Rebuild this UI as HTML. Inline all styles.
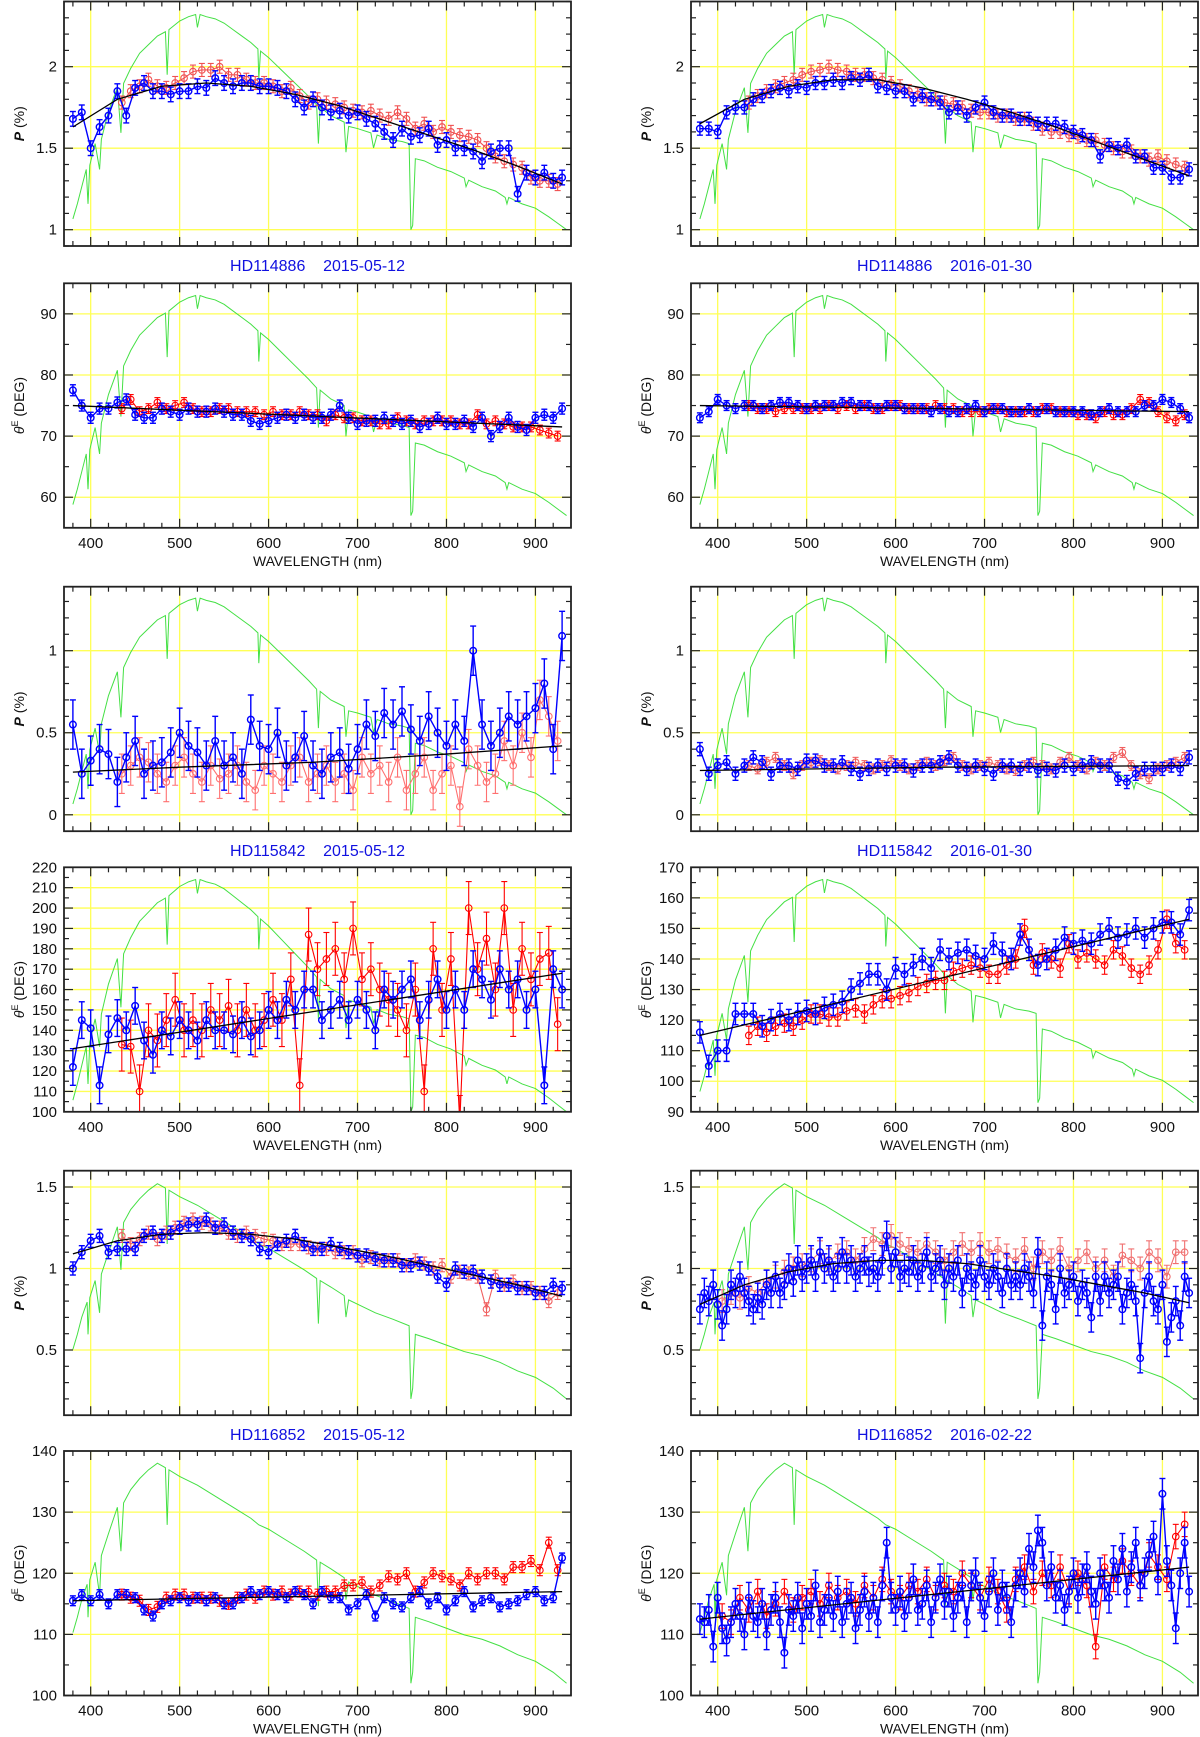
<!DOCTYPE html>
<html><head><meta charset="utf-8"><title>Polarization spectra</title>
<style>
html,body{margin:0;padding:0;background:#fff;}
svg{display:block;}
text{font-family:"Liberation Sans",sans-serif;}
</style></head>
<body>
<svg id="fig" width="1200" height="1737" viewBox="0 0 1200 1737" xmlns="http://www.w3.org/2000/svg"></svg>
<script>
// ---------- data ----------
const specA_lam=[380,385,390,395,397,399,405,410,412,420,430,434,437,445,455,465,475,484,486,488,500,510,518,520,523,530,540,550,560,570,580,588,589,591,600,615,630,645,654,656,658,670,685,687,690,700,715,718,722,735,750,758,760,762,765,775,790,805,820,822,825,840,855,866,868,870,885,900,915,925,935];
const specA_val=[.05,.12,.2,.28,.12,.3,.4,.28,.42,.55,.66,.45,.68,.75,.82,.86,.9,.92,.72,.93,.97,.99,1.0,.94,1.0,.99,.98,.96,.93,.9,.87,.84,.7,.83,.8,.74,.68,.62,.58,.4,.57,.53,.5,.36,.48,.47,.45,.38,.44,.42,.41,.40,.0,.02,.33,.32,.29,.27,.24,.2,.23,.2,.18,.15,.12,.15,.12,.1,.06,.03,0];
const specB_lam=[380,385,390,396,397,399,405,410,412,420,430,434,437,445,455,465,475,484,486,488,500,520,540,560,580,589,600,620,640,654,656,658,670,685,687,690,700,720,740,758,760,762,765,780,800,820,840,860,880,900,920,935];
const specB_val=[.23,.3,.38,.45,.3,.47,.55,.4,.58,.68,.8,.6,.82,.88,.93,.97,1.0,.98,.72,.97,.94,.9,.85,.8,.75,.72,.7,.65,.6,.56,.35,.55,.52,.48,.38,.46,.44,.4,.37,.34,0,.05,.3,.28,.25,.22,.2,.17,.13,.1,.05,0];

const p1L_blue=[1.68,1.72,1.5,1.63,1.7,1.85,1.7,1.87,1.9,1.85,1.85,1.83,1.85,1.85,1.88,1.87,1.93,1.9,1.88,1.9,1.9,1.88,1.88,1.87,1.85,1.8,1.75,1.8,1.75,1.72,1.73,1.7,1.72,1.68,1.65,1.6,1.55,1.62,1.57,1.58,1.62,1.52,1.55,1.5,1.5,1.48,1.42,1.48,1.5,1.5,1.22,1.35,1.32,1.35,1.3,1.32];
const p1L_red=[1.78,1.85,1.88,1.92,1.88,1.87,1.9,1.93,1.97,1.98,1.98,2.0,1.95,1.95,1.92,1.9,1.9,1.88,1.85,1.87,1.82,1.78,1.8,1.78,1.77,1.75,1.73,1.72,1.73,1.7,1.68,1.72,1.68,1.62,1.65,1.6,1.63,1.6,1.58,1.57,1.55,1.5,1.45,1.42,1.4,1.38,1.32,1.3,1.3,1.28];
const p1L_fitLam=[380,430,480,530,580,630,680,730,780,830,880,930];
const p1L_fit=[1.63,1.8,1.88,1.9,1.88,1.83,1.76,1.67,1.58,1.49,1.39,1.28];

const p1R_blue=[1.62,1.62,1.6,1.72,1.75,1.75,1.8,1.82,1.85,1.87,1.85,1.88,1.87,1.9,1.9,1.92,1.9,1.93,1.92,1.95,1.88,1.87,1.85,1.85,1.8,1.82,1.8,1.78,1.72,1.75,1.7,1.75,1.78,1.72,1.7,1.7,1.68,1.68,1.65,1.65,1.65,1.63,1.6,1.58,1.55,1.45,1.52,1.5,1.52,1.45,1.45,1.38,1.38,1.32,1.32,1.37];
const p1R_red=[1.78,1.82,1.85,1.88,1.9,1.92,1.95,1.97,1.98,2.0,1.98,1.97,1.95,1.95,1.93,1.92,1.9,1.88,1.85,1.83,1.8,1.8,1.78,1.77,1.75,1.73,1.72,1.72,1.7,1.7,1.68,1.68,1.65,1.62,1.6,1.6,1.58,1.57,1.55,1.55,1.52,1.5,1.48,1.48,1.45,1.43,1.45,1.42,1.4,1.38];
const p1R_fit=[1.65,1.8,1.88,1.92,1.92,1.87,1.8,1.72,1.63,1.53,1.43,1.33];

const t1L_blue=[77.5,75,73,74.5,74.5,75.5,76,73.5,73,73,74.5,74,73.5,74.5,74,74,74.5,74,73.5,73.5,72.5,72,72.5,73,73.5,73,73.5,73,73,73.5,75,73,72,72.5,72.5,73,72.5,72,72.5,71.5,72,73,72,72,72.5,71.5,73,70,71.5,73,71.5,71,73,73.5,73,74.5];
const t1L_red=[74.5,76,74,74.5,75.5,74.5,75,75.5,74.5,74,74,74.5,74.5,74,74,74,73.5,74,73.5,73.5,74,73.5,73.5,72.5,73.5,73,73,72.5,72.5,72,72,73,72.5,72,72.5,72.5,72.5,72.5,72,72,73.5,72,72.5,72,71.5,71.5,71.5,71,70.5,70];
const t1L_fitLam=[380,930];
const t1L_fit=[75,71.5];

const t1R_blue=[73,74,76,75,74.5,75,75,74.5,75,75.5,75.5,75,74.5,75,75,75,75.5,75.5,75,75,74.5,75,75,74.5,74.5,74.5,74,74.5,74,74,74.5,75,74,74.5,74.5,74,74,74.5,74,74.5,74,74,74,74,73.5,74,74.5,74,74,74,75,75,76,75.5,74.5,73];
const t1R_red=[75,74.5,74.5,74,74.5,74.5,74.5,74.5,74.5,75,74.5,75,74.5,75,74.5,74.5,75,75,74.5,74.5,74.5,75,74.5,74.5,74,74,74,74.5,74.5,74,74,74,74,74.5,74.5,74,74,73.5,73.5,73,74,73.5,73.5,74.5,76,75.5,74,73,72.5,73.5];
const t1R_fit=[75,74];

const p2L_blue=[0.55,0.25,0.33,0.4,0.37,0.2,0.35,0.45,0.25,0.3,0.32,0.38,0.5,0.42,0.38,0.3,0.45,0.3,0.35,0.25,0.58,0.42,0.4,0.5,0.3,0.35,0.48,0.3,0.25,0.35,0.38,0.28,0.4,0.55,0.48,0.62,0.55,0.63,0.52,0.45,0.6,0.5,0.42,0.55,0.45,1.0,0.55,0.42,0.5,0.6,0.55,0.6,0.65,0.8,0.4,1.09];
const p2L_red=[0.25,0.3,0.35,0.32,0.25,0.2,0.3,0.35,0.25,0.2,0.3,0.22,0.25,0.3,0.2,0.15,0.3,0.25,0.2,0.3,0.35,0.2,0.25,0.3,0.2,0.25,0.15,0.35,0.25,0.3,0.2,0.35,0.15,0.25,0.35,0.15,0.25,0.3,0.05,0.4,0.3,0.2,0.25,0.45,0.3,0.5,0.35,0.7,0.6,0.45];
const p2L_fitLam=[380,500,650,800,930];
const p2L_fit=[0.26,0.29,0.32,0.37,0.42];

const p2R_blue=[0.4,0.25,0.3,0.32,0.25,0.3,0.35,0.32,0.25,0.3,0.3,0.28,0.33,0.33,0.3,0.3,0.32,0.28,0.25,0.28,0.3,0.28,0.3,0.3,0.27,0.3,0.3,0.32,0.35,0.3,0.28,0.3,0.28,0.25,0.3,0.3,0.28,0.3,0.27,0.28,0.27,0.3,0.28,0.3,0.32,0.3,0.3,0.22,0.2,0.25,0.28,0.28,0.28,0.3,0.28,0.35];
const p2R_red=[0.3,0.28,0.32,0.35,0.3,0.25,0.3,0.32,0.33,0.3,0.28,0.3,0.32,0.3,0.28,0.3,0.33,0.3,0.28,0.3,0.32,0.3,0.33,0.35,0.3,0.28,0.3,0.32,0.3,0.28,0.27,0.3,0.32,0.3,0.28,0.32,0.35,0.3,0.28,0.32,0.3,0.35,0.38,0.3,0.25,0.22,0.28,0.3,0.32,0.35];
const p2R_fitLam=[380,650,930];
const p2R_fit=[0.27,0.29,0.3];

const t2L_blue=[122,145,141,113,138,146,140,152,135,128,140,137,145,140,135,145,140,140,138,145,137,140,150,145,155,150,160,160,145,150,155,145,155,150,140,160,155,160,165,145,155,165,150,160,150,170,165,155,170,160,165,150,160,113,170,160];
const t2L_red=[133,132,110,140,135,145,155,140,145,140,150,145,152,140,150,140,145,155,145,165,113,187,170,175,180,165,190,165,170,160,155,150,140,160,110,180,150,175,95,200,170,185,160,200,150,180,165,175,178,143];
const t2L_fit=[131,168];

const t2R_blue=[116,105,110,110,122,122,122,118,120,122,120,122,123,122,124,125,126,130,132,135,135,130,137,135,138,140,137,143,140,142,143,141,140,145,142,140,148,143,138,140,143,147,145,146,145,148,150,147,148,150,147,150,152,152,148,156];
const t2R_red=[115,118,116,118,119,118,120,122,122,121,121,123,124,122,125,127,127,128,129,131,132,133,133,136,137,138,137,135,135,138,140,150,138,142,140,137,145,140,142,140,138,143,141,137,135,138,143,153,145,143];
const t2R_fit=[115,153];

const p3L_blue=[1.0,1.1,1.17,1.2,1.1,1.12,1.12,1.12,1.2,1.22,1.2,1.22,1.25,1.27,1.27,1.3,1.25,1.27,1.22,1.2,1.18,1.12,1.1,1.15,1.17,1.2,1.15,1.12,1.12,1.15,1.12,1.1,1.08,1.08,1.06,1.05,1.05,1.02,1.02,1.03,1.0,0.95,0.9,1.0,0.98,0.98,0.95,0.92,0.9,0.9,0.88,0.88,0.85,0.85,0.9,0.88];
const p3L_red=[1.2,1.15,1.18,1.22,1.18,1.22,1.25,1.28,1.3,1.28,1.27,1.25,1.22,1.2,1.22,1.2,1.18,1.17,1.15,1.15,1.15,1.13,1.12,1.12,1.1,1.1,1.1,1.05,1.07,1.05,1.05,1.05,1.02,1.05,1.03,1.0,1.02,0.95,0.98,0.97,0.95,0.75,0.95,0.9,0.92,0.88,0.88,0.85,0.8,0.85];
const p3L_fit=[1.09,1.17,1.21,1.22,1.21,1.18,1.13,1.08,1.02,0.96,0.9,0.83];

const p3R_blue=[0.75,0.85,0.8,0.9,0.78,0.65,0.75,0.9,0.85,0.95,0.85,0.8,0.75,0.82,0.78,0.9,0.85,0.95,0.85,0.9,1.0,0.92,1.05,0.95,1.0,1.05,0.95,1.1,1.0,1.05,0.95,1.0,1.1,1.0,1.05,0.95,1.0,1.05,0.98,1.0,0.95,1.05,1.2,1.0,1.1,0.95,1.0,0.98,1.05,0.95,1.0,1.1,0.95,1.0,1.05,0.9,1.0,0.95,1.05,0.85,1.0,0.95,0.9,1.05,0.95,0.9,1.0,0.95,0.85,1.0,0.9,0.95,0.9,1.0,0.95,0.85,1.1,0.65,0.95,0.9,0.75,1.0,0.85,0.9,0.95,0.8,0.9,0.85,0.7,0.95,0.8,0.95,0.85,0.9,0.95,0.75,0.85,0.9,0.8,0.45,0.85,0.95,0.8,0.75,0.9,0.55,0.7,0.8,0.65,0.95,0.85];
const p3R_red=[0.8,0.85,0.82,0.88,0.85,0.92,0.95,0.98,1.0,1.02,1.05,1.1,1.05,1.08,1.1,1.05,1.12,1.18,1.15,1.2,1.15,1.12,1.1,1.15,1.1,1.05,1.1,1.15,1.1,1.15,1.1,1.12,1.08,1.05,1.12,1.0,1.1,1.05,1.12,1.0,1.05,1.1,1.0,1.05,0.95,1.08,1.05,1.0,1.1,1.05,0.95,1.1,1.1];
const p3R_fit=[0.78,0.9,0.98,1.03,1.05,1.05,1.03,0.99,0.95,0.9,0.85,0.79];

const t3L_blue=[115.5,116.5,115.5,116.5,115,116.5,116.5,116,114,113,115,115.5,116,115.5,116,115.5,116,115,115,116,117,116.5,117,116.5,116,117,116.5,115,117,116,116,114,115,116.5,113,116,115,114.5,116,117,115,116,114,115.5,117,114.5,115.5,116,114.5,115,115.5,116.5,117,115.5,116,122.5];
const t3L_red=[116.5,116,115.5,114,114.5,116,116.5,116.5,116,116,116,115.5,115,116,116.5,116,117,116.5,117,116.5,117,117,116.5,117,117,118,118,118.5,117,118,119.5,119,120,117,118.5,120,119.5,119,118,120,119,120,120,119,121,121,122,120.5,125,120.5];
const t3L_fit=[115.5,117];

const t3R_blue=[112.5,112,114,108,116,111,109,112,115,113,110,116,113,112,115,110,114,116,112,107,114,113,116,111,115,113,118,112,114,116,113,117,112,115,116,111,114,117,113,116,112,118,125,116,114,117,113,116,119,114,115,118,112,116,119,115,117,113,116,118,112,118,120,116,113,117,120,114,118,116,112,118,120,117,124,121,127,125,118,121,116,118,114,117,120,116,119,121,117,115,120,118,116,122,119,124,117,121,125,118,120,123,126,119,133,122,118,111,120,125,117];
const t3R_red=[113,112,116,114,117,113,115,117,114,116,117,115,118,116,117,115,118,116,119,117,116,118,117,119,116,118,117,120,118,116,119,117,114,119,121,117,120,118,121,117,120,118,108,121,119,122,120,118,123,121,119,126,128];
const t3R_fit=[112.5,121];

// ---------- layout ----------
const NS="http://www.w3.org/2000/svg";
const svg=document.getElementById('fig');
const colX=[64,691], PW=507, PH=244.5;
const rowTop=[1.5,283.3,586.7,867.3,1170.7,1451];
const X0=370, X1=940;
function mk(tag,attrs,parent){const e=document.createElementNS(NS,tag);for(const k in attrs)e.setAttribute(k,attrs[k]);(parent||svg).appendChild(e);return e;}
function rng(a,b,s){const r=[];for(let v=a;v<=b+1e-9;v+=s)r.push(+v.toFixed(4));return r;}

const panels=[
 {n:'p-2015-hd114886',c:0,r:0,y:[0.9,2.4],maj:[1,1.5,2],mi:0.1,t:'P',spec:'A',sl:1.0,sh:2.32,b:p1L_blue,bs:380,bst:10,be:0.045,rd:p1L_red,rs:435,rst:10,re:0.04,rc:'#f05050',fl:p1L_fitLam,f:p1L_fit,title:'HD114886    2015-05-12'},
 {n:'p-2016-hd114886',c:1,r:0,y:[0.9,2.4],maj:[1,1.5,2],mi:0.1,t:'P',spec:'A',sl:1.0,sh:2.32,b:p1R_blue,bs:380,bst:10,be:0.04,rd:p1R_red,rs:435,rst:10,re:0.04,rc:'#f05050',fl:p1L_fitLam,f:p1R_fit,title:'HD114886    2016-01-30'},
 {n:'theta-2015-hd114886',c:0,r:1,y:[55,95],maj:[60,70,80,90],mi:5,t:'T',spec:'A',sl:57,sh:93,b:t1L_blue,bs:380,bst:10,be:0.9,rd:t1L_red,rs:435,rst:10,re:0.8,rc:'#ff0000',fl:t1L_fitLam,f:t1L_fit},
 {n:'theta-2016-hd114886',c:1,r:1,y:[55,95],maj:[60,70,80,90],mi:5,t:'T',spec:'A',sl:57,sh:93,b:t1R_blue,bs:380,bst:10,be:0.8,rd:t1R_red,rs:435,rst:10,re:0.8,rc:'#ff0000',fl:t1L_fitLam,f:t1R_fit},
 {n:'p-2015-hd115842',c:0,r:2,y:[-0.1,1.39],maj:[0,0.5,1],mi:0.1,t:'P',spec:'A',sl:0,sh:1.32,b:p2L_blue,bs:380,bst:10,be:0.15,rd:p2L_red,rs:435,rst:10,re:0.12,rc:'#ff7070',fl:p2L_fitLam,f:p2L_fit,title:'HD115842    2015-05-12'},
 {n:'p-2016-hd115842',c:1,r:2,y:[-0.1,1.39],maj:[0,0.5,1],mi:0.1,t:'P',spec:'A',sl:0,sh:1.32,b:p2R_blue,bs:380,bst:10,be:0.04,rd:p2R_red,rs:435,rst:10,re:0.03,rc:'#f06060',fl:p2R_fitLam,f:p2R_fit,title:'HD115842    2016-01-30'},
 {n:'theta-2015-hd115842',c:0,r:3,y:[100,220],maj:rng(100,220,10),mi:5,t:'T',spec:'A',sl:100,sh:214,b:t2L_blue,bs:380,bst:10,be:9,rd:t2L_red,rs:435,rst:10,re:13,rc:'#ff0000',fl:t1L_fitLam,f:t2L_fit},
 {n:'theta-2016-hd115842',c:1,r:3,y:[90,170],maj:rng(90,170,10),mi:5,t:'T',spec:'A',sl:93,sh:166,b:t2R_blue,bs:380,bst:10,be:3.5,rd:t2R_red,rs:435,rst:10,re:3,rc:'#ff0000',fl:t1L_fitLam,f:t2R_fit},
 {n:'p-2015-hd116852',c:0,r:4,y:[0.1,1.6],maj:[0.5,1,1.5],mi:0.1,t:'P',spec:'B',sl:0.2,sh:1.52,b:p3L_blue,bs:380,bst:10,be:0.04,rd:p3L_red,rs:435,rst:10,re:0.04,rc:'#f06060',fl:p1L_fitLam,f:p3L_fit,title:'HD116852    2015-05-12'},
 {n:'p-2016-hd116852',c:1,r:4,y:[0.1,1.6],maj:[0.5,1,1.5],mi:0.1,t:'P',spec:'B',sl:0.2,sh:1.52,b:p3R_blue,bs:380,bst:5,be:0.09,rd:p3R_red,rs:405,rst:10,re:0.07,rc:'#f07070',fl:p1L_fitLam,f:p3R_fit,title:'HD116852    2016-02-22'},
 {n:'theta-2015-hd116852',c:0,r:5,y:[100,140],maj:[100,110,120,130,140],mi:5,t:'T',spec:'B',sl:102,sh:138,b:t3L_blue,bs:380,bst:10,be:0.8,rd:t3L_red,rs:435,rst:10,re:0.9,rc:'#ff0000',fl:t1L_fitLam,f:t3L_fit},
 {n:'theta-2016-hd116852',c:1,r:5,y:[100,140],maj:[100,110,120,130,140],mi:5,t:'T',spec:'B',sl:102,sh:138,b:t3R_blue,bs:380,bst:5,be:2.5,rd:t3R_red,rs:405,rst:10,re:2,rc:'#ff0000',fl:t1L_fitLam,f:t3R_fit}
];

panels.forEach(p=>{
 const L=colX[p.c], T=rowTop[p.r], R=L+PW, B=T+PH;
 const xs=v=>L+(v-X0)/(X1-X0)*PW;
 const ys=v=>B-(v-p.y[0])/(p.y[1]-p.y[0])*PH;
 const g=mk('g',{});
 
 
 const clipId='clip-'+p.n;
 const cp=mk('clipPath',{id:clipId},g);mk('rect',{x:L,y:T,width:PW,height:PH},cp);
 // grid
 const grid=mk('g',{stroke:'#ffff55','stroke-width':1.3},g);
 
 
 for(let v=400;v<=900;v+=100)mk('line',{x1:xs(v),x2:xs(v),y1:T,y2:B},grid);
 p.maj.forEach(v=>{if(v>p.y[0]&&v<p.y[1])mk('line',{x1:L,x2:R,y1:ys(v),y2:ys(v)},grid);});
 const plot=mk('g',{'clip-path':'url(#'+clipId+')'},g);
 // spectrum
 const sl=p.spec==='A'?specA_lam:specB_lam, sv=p.spec==='A'?specA_val:specB_val;
 const sp=mk('polyline',{fill:'none',stroke:'#44e044','stroke-width':1,points:sl.map((l,i)=>xs(l)+','+ys(p.sl+sv[i]*(p.sh-p.sl))).join(' ')},plot);
 
 
 // series
 function series(vals,start,step,err,col,name,lw){
  const sg=mk('g',{stroke:col,fill:'none','stroke-width':lw},plot);
  
  
  mk('polyline',{points:vals.map((v,i)=>xs(start+step*i)+','+ys(v)).join(' ')},sg);
  vals.forEach((v,i)=>{const x=xs(start+step*i),y=ys(v),y1=ys(v+err),y2=ys(v-err);
   mk('line',{x1:x,x2:x,y1:y1,y2:y2},sg);
   mk('line',{x1:x-3,x2:x+3,y1:y1,y2:y1},sg);
   mk('line',{x1:x-3,x2:x+3,y1:y2,y2:y2},sg);
   const c=mk('circle',{cx:x,cy:y,r:3.3},sg);
   
   
  });
 }
 series(p.rd,p.rs,p.rst,p.re,p.rc,'red-series',1.1);
 series(p.b,p.bs,p.bst,p.be,'#0000ff','blue-series',1.4);
 const fit=mk('polyline',{fill:'none',stroke:'#000','stroke-width':1.3,points:p.fl.map((l,i)=>xs(l)+','+ys(p.f[i])).join(' ')},plot);
 
 
 // frame & ticks
 const ax=mk('g',{stroke:'#222','stroke-width':1.2},g);
 
 
 mk('rect',{x:L,y:T,width:PW,height:PH,fill:'none','stroke-width':1.8},ax);
 for(let v=380;v<=930;v+=20){const M=v%100===0,h=M?9:5;
  mk('line',{x1:xs(v),x2:xs(v),y1:B,y2:B-h},ax);mk('line',{x1:xs(v),x2:xs(v),y1:T,y2:T+h},ax);}
 const m0=Math.ceil(p.y[0]/p.mi-1e-9);
 for(let k=m0;k*p.mi<=p.y[1]+1e-9;k++){const v=+(k*p.mi).toFixed(4);const M=p.maj.some(m=>Math.abs(m-v)<1e-6),h=M?9:5;
  mk('line',{x1:L,x2:L+h,y1:ys(v),y2:ys(v)},ax);mk('line',{x1:R,x2:R-h,y1:ys(v),y2:ys(v)},ax);}
 // labels
 p.maj.forEach(v=>{const t=mk('text',{x:L-7,y:ys(v)+5,'text-anchor':'end','font-size':15,fill:'#111'},g);t.textContent=String(v);
  });
 if(p.t==='T'){
  for(let v=400;v<=900;v+=100){const t=mk('text',{x:xs(v),y:B+20,'text-anchor':'middle','font-size':15,fill:'#111'},g);t.textContent=String(v);
   }
  const xl=mk('text',{x:(L+R)/2,y:B+38,'text-anchor':'middle','font-size':14,fill:'#111','font-family':'Liberation Serif, serif'},g);xl.textContent='WAVELENGTH (nm)';
  
 }
 const yl=mk('text',{transform:'translate('+(L-40)+','+(T+PH/2)+') rotate(-90)','text-anchor':'middle','font-size':14,fill:'#111','font-family':'Liberation Serif, serif'},g);
 if(p.t==='P'){yl.innerHTML='<tspan font-style="italic" font-weight="bold">P</tspan>  (%)';}
 else{yl.innerHTML='<tspan font-style="italic">θ</tspan><tspan font-size="9" dy="-6">E</tspan><tspan dy="6"> (DEG)</tspan>';}
 
 if(p.title){const tt=mk('text',{x:(L+R)/2,y:B+25,'text-anchor':'middle','font-size':16,fill:'#1010e0','xml:space':'preserve','font-family':'Liberation Mono, monospace'},g);
  tt.setAttribute('style','white-space:pre');tt.textContent=p.title;
  }
});
</script>
</body></html>
